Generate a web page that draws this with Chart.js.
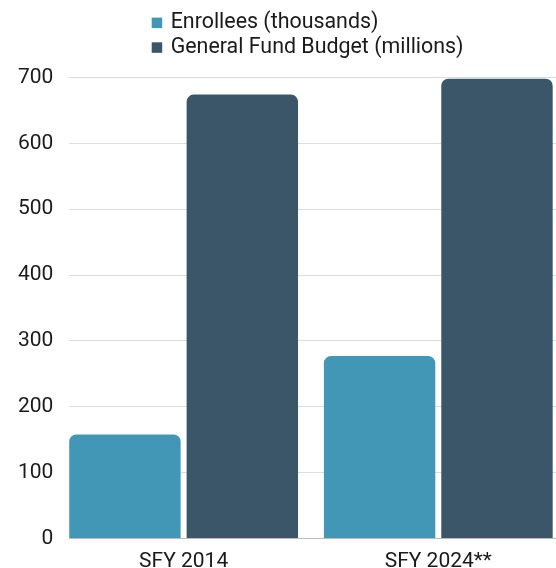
<!DOCTYPE html>
<html>
<head>
<meta charset="utf-8">
<script src="https://cdn.jsdelivr.net/npm/chart.js@4"></script>
<style>
	html, body { margin: 0; padding: 0; background: #fff; overflow: hidden; }
	/* the original plot runs a little past the right edge of the picture */
	#wrap { width: 566px; height: 568px; }
</style>
</head>
<body>
<div id="wrap"><canvas id="fundChart"></canvas></div>
<script>
const categories = ["SFY 2014", "SFY 2024**"];
const enrollees = [158, 277];
const budget = [674, 698];
const seriesNames = ["Enrollees (thousands)", "General Fund Budget (millions)"];
const seriesColors = ["#4197B5", "#3C5669"];
const yTicks = [0, 100, 200, 300, 400, 500, 600, 700];

const FONT = "Roboto, 'Noto Sans', sans-serif";

// legend stacked in one left-aligned column, like the original
const stackedLegend = {
	id: "stackedLegend",
	afterDraw(chart) {
		const c = chart.ctx;
		c.save();
		c.font = "21.4px " + FONT;
		c.textBaseline = "middle";
		chart.data.datasets.forEach((ds, i) => {
			const y = 22.8 + i * 24.7;
			c.fillStyle = ds.backgroundColor;
			c.fillRect(151.7, y - 5.2, 10.5, 10.5);
			c.fillStyle = "#1a1a1a";
			c.fillText(ds.label, 170.7, y);
		});
		c.restore();
	},
};

// grid and axis line start at the first bar, not at the plot edge
const trimGrid = {
	id: "trimGrid",
	beforeDatasetsDraw(chart) {
		const bar = chart.getDatasetMeta(0).data[0];
		const a = chart.chartArea;
		const edge = bar.x - bar.width / 2;
		const c = chart.ctx;
		c.save();
		c.fillStyle = "#fff";
		c.fillRect(a.left - 2, a.top - 3, edge - a.left + 2, a.bottom - a.top + 6);
		c.restore();
	},
};

new Chart(document.getElementById("fundChart"), {
	type: "bar",
	data: {
		labels: categories,
		datasets: [
			{
				label: seriesNames[0],
				data: enrollees,
				backgroundColor: seriesColors[0],
			},
			{
				label: seriesNames[1],
				data: budget,
				backgroundColor: seriesColors[1],
			},
		],
	},
	options: {
		responsive: true,
		maintainAspectRatio: false,
		animation: false,
		layout: {
			padding: { top: 77.5, right: 0.4, left: 0, bottom: 0 },
		},
		datasets: {
			bar: {
				categoryPercentage: 0.922,
				barPercentage: 0.949,
				borderRadius: 7,
				borderSkipped: "start",
			},
		},
		plugins: {
			legend: { display: false },
			tooltip: { enabled: false },
		},
		scales: {
			x: {
				grid: { display: false },
				border: { display: true, color: "#bdbdbd", width: 1 },
				ticks: {
					color: "#1a1a1a",
					font: { family: FONT, size: 21 },
					padding: 3,
					maxRotation: 0,
				},
				afterFit(scale) {
					scale.height = 29.5;
				},
			},
			y: {
				min: 0,
				max: 700,
				afterBuildTicks(scale) {
					scale.ticks = yTicks.map((v) => ({ value: v }));
				},
				grid: { color: "#dcdcdc", drawTicks: false },
				border: { display: false },
				ticks: {
					color: "#1a1a1a",
					font: { family: FONT, size: 21 },
					padding: 3,
				},
				afterFit(scale) {
					scale.width = 56.3;
				},
			},
		},
	},
	plugins: [stackedLegend, trimGrid],
});
</script>
</body>
</html>
